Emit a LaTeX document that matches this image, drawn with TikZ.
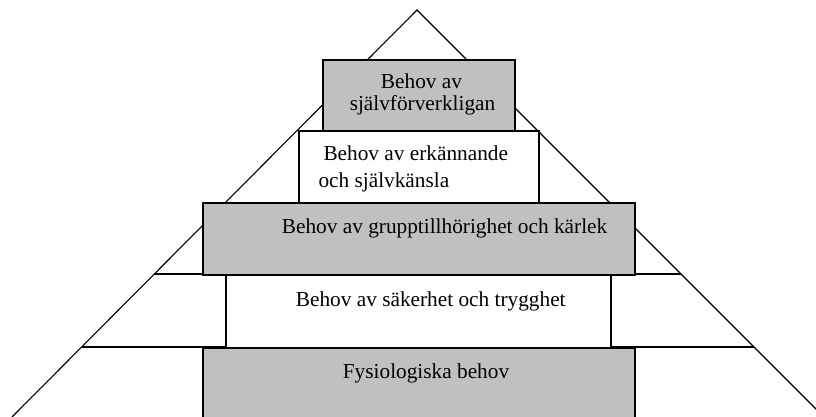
\documentclass[tikz,border=0pt]{standalone}
\usepackage{fontspec}
\setmainfont{Liberation Serif}
\usetikzlibrary{calc}
\definecolor{boxgray}{RGB}{192,192,192}

\begin{document}
\begin{tikzpicture}[x=1pt,y=-1pt,
    level/.style={draw,line width=1.6pt,inner sep=0,anchor=north west},
    lbl/.style={inner sep=0,anchor=base west,font=\fontsize{21.3}{25}\selectfont}]
    \clip (0,0) rectangle (816,417);
    % pyramid outline
    \coordinate (apex) at (417,10);
    \coordinate (bl) at (12,417);
    \coordinate (br) at (824,417);
    \draw[line width=1.1pt] (bl) -- (apex) -- (br);
    \coordinate (la) at ($(apex)!0.6486!(bl)$);
    \coordinate (ra) at ($(apex)!0.6486!(br)$);
    \coordinate (lb) at ($(apex)!0.828!(bl)$);
    \coordinate (rb) at ($(apex)!0.828!(br)$);
    \draw[line width=1.6pt] (la) -- (ra);
    \draw[line width=1.6pt] (lb) -- (rb);
    % levels, bottom to top
    \node[level,fill=boxgray,minimum width=432pt,minimum height=80pt] (fys) at (202,347) {};
    \node[level,fill=white,minimum width=385pt,minimum height=73pt] (sak) at (225,274) {};
    \node[level,fill=boxgray,minimum width=432pt,minimum height=72pt] (grp) at (202,202) {};
    \node[level,fill=white,minimum width=240pt,minimum height=72pt] (erk) at (298,130) {};
    \node[level,fill=boxgray,minimum width=192pt,minimum height=71pt] (sjv) at (322,59) {};
    % texts
    \node[lbl] (fystext) at (342.7,378.3) {Fysiologiska behov};
    \node[lbl] (saktext) at (295.7,306) {Behov av säkerhet och trygghet};
    \node[lbl] (grptext) at (281.7,233.3) {Behov av grupptillhörighet och kärlek};
    \node[lbl] (erktexta) at (323.3,160.7) {Behov av erkännande};
    \node[lbl] (erktextb) at (318.3,187) {och självkänsla};
    \node[lbl,anchor=base] (sjvtexta) at (421.5,89) {Behov av};
    \node[lbl,anchor=base] (sjvtextb) at (422.5,111) {självförverkligan};
\end{tikzpicture}
\end{document}
